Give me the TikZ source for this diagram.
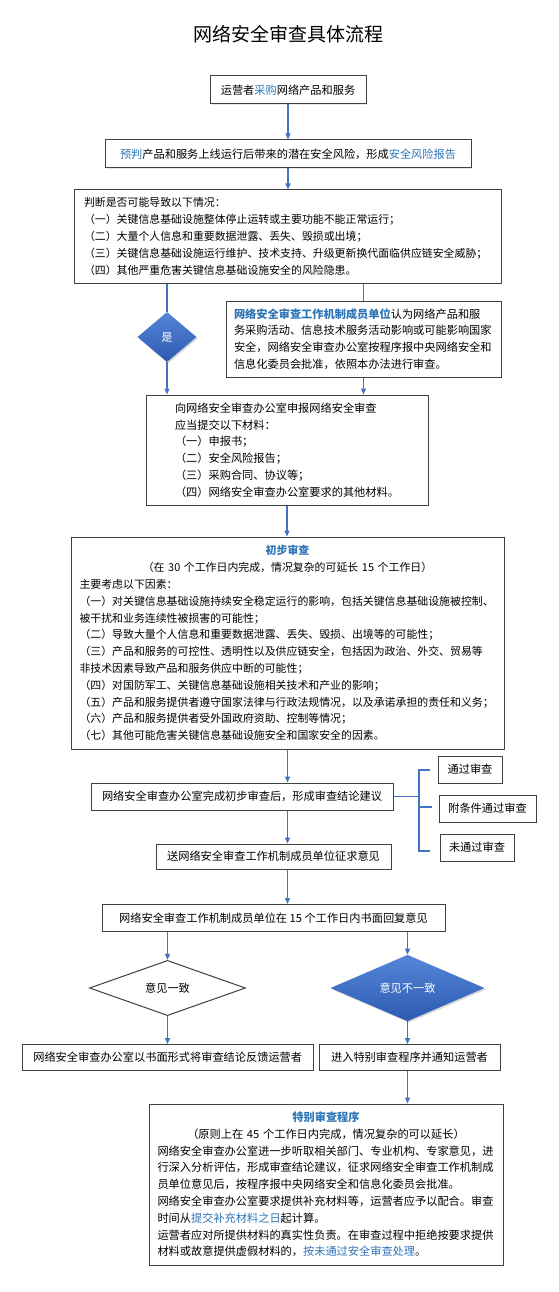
\documentclass[tikz,border=0pt]{standalone}
\usepackage{fontspec}
\setmainfont{Noto Sans CJK SC}
\usetikzlibrary{arrows.meta,shapes.geometric,shadows}
\definecolor{tblue}{RGB}{46,117,182}
\definecolor{lblue}{RGB}{68,114,196}
\definecolor{bord}{RGB}{64,64,64}
\definecolor{dtop}{RGB}{86,134,216}
\definecolor{dbot}{RGB}{44,90,176}
\tikzset{
  box/.style={draw=bord, line width=1pt, fill=white, inner sep=0pt,
    font=\fontsize{11.2}{16.8}\selectfont,
    drop shadow={shadow xshift=0.8pt, shadow yshift=-0.8pt, opacity=0.18}},
  smallbox/.style={draw=bord, line width=1pt, fill=white, inner sep=0pt,
    font=\fontsize{11.2}{14}\selectfont},
  densebox/.style={box, font=\fontsize{10.9}{16.8}\selectfont},
  conn/.style={draw=lblue, line width=1.3pt},
  arr/.style={conn, -{Triangle[length=6pt,width=5pt]}},
  bluedia/.style={diamond, top color=dtop, bottom color=dbot, draw=none,
    text=white, inner sep=0pt, font=\fontsize{11.2}{13}\selectfont,
    drop shadow={shadow xshift=1.2pt, shadow yshift=-1.5pt, opacity=0.3}},
  whitedia/.style={diamond, draw=bord, line width=1pt, fill=white,
    inner sep=0pt, font=\fontsize{11.2}{13}\selectfont}
}
\begin{document}
\begin{tikzpicture}[x=1pt,y=-1pt]
\useasboundingbox (0,0) rectangle (558,1292);
\fill[white] (0,0) rectangle (558,1292);

\node[font=\fontsize{19}{22}\selectfont] (title) at (288,34) {网络安全审查具体流程};

\node[box, minimum width=156pt, minimum height=28pt] (b1) at (288,90)
  {运营者\textcolor{tblue}{采购}网络产品和服务};

\node[box, minimum width=366pt, minimum height=28pt] (b2) at (288,154)
  {\textcolor{tblue}{预判}产品和服务上线运行后带来的潜在安全风险，形成\textcolor{tblue}{安全风险报告}};

\node[densebox, minimum width=427pt, minimum height=93pt, text width=407pt, align=left] (b3) at (287.5,236.5)
  {判断是否可能导致以下情况：\\
   （一）关键信息基础设施整体停止运转或主要功能不能正常运行；\\
   （二）大量个人信息和重要数据泄露、丢失、毁损或出境；\\
   （三）关键信息基础设施运行维护、技术支持、升级更新换代面临供应链安全威胁；\\
   （四）其他严重危害关键信息基础设施安全的风险隐患。};

\node[box, minimum width=275pt, minimum height=76pt, text width=259pt, align=left] (b4) at (363.5,339)
  {\textcolor{tblue}{\bfseries 网络安全审查工作机制成员单位}认为网络产品和服\\
   务采购活动、信息技术服务活动影响或可能影响国家\\
   安全，网络安全审查办公室按程序报中央网络安全和\\
   信息化委员会批准，依照本办法进行审查。};

\node[bluedia, minimum width=59pt, minimum height=50pt] (yes) at (167,337) {是};

\node[box, minimum width=282pt, minimum height=110pt, align=left] (b5) at (287,450)
  {向网络安全审查办公室申报网络安全审查\\
   应当提交以下材料：\\
   （一）申报书；\\
   （二）安全风险报告；\\
   （三）采购合同、协议等；\\
   （四）网络安全审查办公室要求的其他材料。};

\node[densebox, minimum width=433pt, minimum height=212pt, text width=416pt, align=left] (b6) at (287.5,643)
  {\makebox[\linewidth]{\bfseries\color{tblue}初步审查}\\
   \makebox[\linewidth]{（在 30 个工作日内完成，情况复杂的可延长 15 个工作日）}\\
   主要考虑以下因素：\\
   （一）对关键信息基础设施持续安全稳定运行的影响，包括关键信息基础设施被控制、\\
   被干扰和业务连续性被损害的可能性；\\
   （二）导致大量个人信息和重要数据泄露、丢失、毁损、出境等的可能性；\\
   （三）产品和服务的可控性、透明性以及供应链安全，包括因为政治、外交、贸易等\\
   非技术因素导致产品和服务供应中断的可能性；\\
   （四）对国防军工、关键信息基础设施相关技术和产业的影响；\\
   （五）产品和服务提供者遵守国家法律与行政法规情况，以及承诺承担的责任和义务；\\
   （六）产品和服务提供者受外国政府资助、控制等情况；\\
   （七）其他可能危害关键信息基础设施安全和国家安全的因素。};

\node[box, minimum width=302pt, minimum height=27pt] (b7) at (242,796.5)
  {网络安全审查办公室完成初步审查后，形成审查结论建议};

\node[smallbox, minimum width=64pt, minimum height=27pt] (r1) at (470,769.5) {通过审查};
\node[smallbox, minimum width=97pt, minimum height=27pt] (r2) at (487.5,808.5) {附条件通过审查};
\node[smallbox, minimum width=74pt, minimum height=27pt] (r3) at (477,847.5) {未通过审查};

\node[box, minimum width=235pt, minimum height=25pt] (b8) at (273.5,856.5)
  {送网络安全审查工作机制成员单位征求意见};

\node[box, minimum width=343pt, minimum height=27pt] (b9) at (273.5,918)
  {网络安全审查工作机制成员单位在 15 个工作日内书面回复意见};

\node[whitedia, minimum width=156pt, minimum height=48pt] (dL) at (167.5,988) {意见一致};
\node[bluedia, minimum width=154pt, minimum height=47pt] (dR) at (407.5,988) {意见不一致};

\node[box, minimum width=291pt, minimum height=26pt] (b10) at (167.7,1057.5)
  {网络安全审查办公室以书面形式将审查结论反馈运营者};
\node[box, minimum width=181pt, minimum height=26pt] (b11) at (409.5,1057.5)
  {进入特别审查程序并通知运营者};

\node[box, minimum width=354pt, minimum height=161pt, text width=337pt, align=left] (b12) at (326,1184.5)
  {\makebox[\linewidth]{\bfseries\color{tblue}特别审查程序}\\
   \makebox[\linewidth]{（原则上在 45 个工作日内完成，情况复杂的可以延长）}\\
   网络安全审查办公室进一步听取相关部门、专业机构、专家意见，进\\
   行深入分析评估，形成审查结论建议，征求网络安全审查工作机制成\\
   员单位意见后，按程序报中央网络安全和信息化委员会批准。\\
   网络安全审查办公室要求提供补充材料等，运营者应予以配合。审查\\
   时间从\textcolor{tblue}{提交补充材料之日}起计算。\\
   运营者应对所提供材料的真实性负责。在审查过程中拒绝按要求提供\\
   材料或故意提供虚假材料的，\textcolor{tblue}{按未通过安全审查处理}。};

% connectors
\draw[arr] (b1.south) -- (b1.south |- b2.north);
\draw[arr] (b2.south) -- (b2.south |- b3.north);
\draw[conn] (yes.north |- b3.south) -- (yes.north);
\draw[conn] (b4.north |- b3.south) -- (b4.north);
\draw[arr] (yes.south) -- (yes.south |- b5.north);
\draw[arr] (b4.south) -- (b4.south |- b5.north);
\draw[arr] (b5.south) -- (b5.south |- b6.north);
\draw[arr] (b6.south) -- (b6.south |- b7.north);
\draw[arr] (b6.south |- b7.south) -- (b6.south |- b8.north);
\draw[arr] (b6.south |- b8.south) -- (b6.south |- b9.north);

\coordinate (bk) at (419,796.5);
\coordinate (t1) at (430,770);
\coordinate (t2) at (432,807);
\coordinate (t3) at (430,851);
\draw[conn] (b7.east) -- (bk);
\draw[conn] (t1) -- (t1 -| bk) -- (t3 -| bk) -- (t3);
\draw[conn] (t2 -| bk) -- (t2);

\draw[arr] (dL.north |- b9.south) -- (dL.north);
\draw[arr] (dR.north |- b9.south) -- (dR.north);
\draw[arr] (dL.south) -- (dL.south |- b10.north);
\draw[arr] (dR.south) -- (dR.south |- b11.north);
\draw[arr] (dR.south |- b11.south) -- (dR.south |- b12.north);
\end{tikzpicture}
\end{document}
